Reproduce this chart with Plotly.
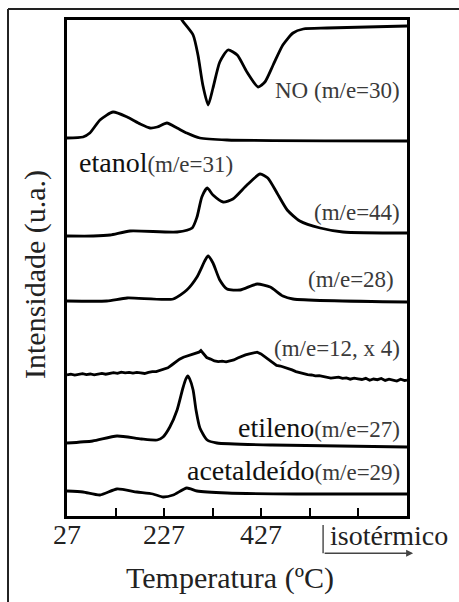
import plotly.graph_objects as go

# Temperature axis (°C): linear ramp, then isothermal hold
T_MIN, T_MAX = 27, 728
ISO_START = 555
TICK_VALS = [27, 127, 227, 327, 427, 527, 627]
TICK_TEXT = ["27", "", "227", "", "427", "", ""]

# Vertical offset of each stacked signal (arbitrary units)
OFFSETS = {"no": 490, "etanol": 376, "m44": 283, "m28": 214,
           "m12": 136, "etileno": 69, "acetaldeido": 22}

# NO (m/e=30) – consumption bands (signal runs above the frame at low T)
no_T = [239, 264, 287, 297, 307, 318, 328, 342, 359, 378, 398, 421, 435, 452,
        472, 493, 514, 563, 728]
no_I = [31, 6, -9, -29, -59, -79, -62, -36, -24, -29, -46, -61, -56, -39,
        -19, -7, -3, -2, 0]

# etanol (m/e=31)
etanol_T = [27, 60, 74, 95, 122, 151, 178, 198, 213, 233, 254, 274, 301, 357, 728]
etanol_I = [2, 3, 7, 20, 28, 23, 16, 12, 13, 17, 12, 7, 2, 0, -1]

# CO2 (m/e=44)
m44_T = [27, 81, 116, 157, 254, 285, 295, 305, 316, 328, 349, 369, 398, 425,
         441, 460, 481, 507, 549, 596, 728]
m44_I = [-3, -3, -2, 2, 1, 5, 16, 36, 45, 38, 31, 34, 48, 59,
         55, 40, 23, 12, 5, 1, 0]

# m/e=28
m28_T = [27, 109, 151, 246, 274, 295, 312, 318, 328, 342, 357, 384, 419, 446,
         472, 493, 728]
m28_I = [1, 1, 4, 3, 12, 25, 42, 46, 39, 22, 13, 12, 18, 15, 6, 3, 0]

# m/e=12 (x 4), noisy trace
m12_T = [27, 35, 43, 51, 59, 67, 75, 83, 91, 99, 107, 115, 123, 131, 139, 147,
         155, 163, 171, 179, 187, 195, 203, 211, 219, 227, 235, 243, 251, 259,
         267, 275, 283, 291, 299, 303, 307, 315, 323, 331, 339, 347, 355, 363,
         371, 379, 387, 395, 403, 411, 419, 427, 435, 443, 451, 459, 467, 475,
         483, 491, 499, 507, 515, 523, 531, 539, 547, 555, 563, 571, 579, 587,
         595, 603, 611, 619, 627, 635, 643, 651, 659, 667, 675, 683, 691, 699,
         707, 715, 723, 728]
m12_I = [5, 5.8, 4.9, 5.5, 6.3, 5.4, 6.0, 5.2, 6.1, 6.6, 5.8, 6.8, 7.3, 6.6, 7.9, 7.2,
         7.6, 6.9, 7.7, 7.1, 6.5, 7.6, 8.4, 8.3, 9.8, 10.9, 12.2, 15.0, 18.1, 20.8,
         22.8, 24.0, 25.7, 26.6, 27.8, 29.5, 27.2, 22.5, 20.9, 19.1, 18.3, 18.8, 18.2, 19.0,
         20.1, 22.0, 23.8, 25.1, 26.2, 27.0, 27.8, 26.1, 23.2, 20.0, 17.2, 14.6, 14.0, 12.9,
         11.2, 10.1, 8.4, 7.3, 6.2, 5.4, 5.0, 4.2, 4.3, 3.4, 3.2, 1.9, 2.4, 2.9,
         1.6, 2.1, 0.8, 1.9, 1.2, 0.5, 1.7, -0.3, 1.0, 0.3, 1.5, -0.4, 0.9, 0.2,
         -1.0, 0.8, -0.5, 0]

# etileno (m/e=27)
etileno_T = [27, 80, 130, 180, 213, 225, 239, 254, 266, 272, 276, 280, 287, 293,
             301, 316, 336, 450, 728]
etileno_I = [4, 6, 11, 8, 7, 10, 20, 37, 59, 68, 71, 68, 57, 37, 19, 7, 4, 2, 0]

# acetaldeído (m/e=29)
acet_T = [27, 60, 95, 130, 171, 204, 225, 246, 274, 295, 357, 500, 728]
acet_I = [3, 2, -1, 5, 2, 0, -3, -1, 6, 3, 1, 0, 0]

SERIF = "Liberation Serif"

series = [
    ("no", no_T, no_I, "spline"),
    ("etanol", etanol_T, etanol_I, "spline"),
    ("m44", m44_T, m44_I, "spline"),
    ("m28", m28_T, m28_I, "spline"),
    ("m12", m12_T, m12_I, "linear"),
    ("etileno", etileno_T, etileno_I, "spline"),
    ("acetaldeido", acet_T, acet_I, "spline"),
]

fig = go.Figure()
for key, xs, ys, shape in series:
    off = OFFSETS[key]
    fig.add_trace(go.Scatter(
        x=xs, y=[v + off for v in ys], mode="lines",
        line=dict(color="black", width=2.8, shape=shape, smoothing=0.6),
        showlegend=False, hoverinfo="skip"))

SMALL = "font-size:23px;color:#3a3a3a"


def label(text, x, y, anchor="right"):
    fig.add_annotation(x=x, y=y, xref="x", yref="y", text=text, showarrow=False,
                       xanchor=anchor, yanchor="middle",
                       font=dict(family=SERIF, size=28, color="#111"))


label(f"<span style='{SMALL}'>NO (m/e=30)</span>", 718, OFFSETS["no"] - 64)
label(f"etanol<span style='{SMALL}'>(m/e=31)</span>", 48, OFFSETS["etanol"] - 22, "left")
label(f"<span style='{SMALL}'>(m/e=44)</span>", 718, OFFSETS["m44"] + 21)
label(f"<span style='{SMALL}'>(m/e=28)</span>", 705, OFFSETS["m28"] + 23)
label(f"<span style='{SMALL}'>(m/e=12, x 4)</span>", 718, OFFSETS["m12"] + 32)
label(f"etileno<span style='{SMALL}'>(m/e=27)</span>", 718, OFFSETS["etileno"] + 20)
label(f"acetaldeído<span style='{SMALL}'>(m/e=29)</span>", 718, OFFSETS["acetaldeido"] + 24)

# Axis titles
fig.add_annotation(xref="paper", yref="paper", x=0.479, y=-0.125,
                   xanchor="center", yanchor="middle", showarrow=False,
                   text="Temperatura (ºC)",
                   font=dict(family=SERIF, size=30, color="#222"))
fig.add_annotation(xref="paper", yref="paper", x=-0.094, y=0.486,
                   xanchor="center", yanchor="middle", showarrow=False,
                   textangle=-90, text="Intensidade (u.a.)",
                   font=dict(family=SERIF, size=30, color="#222"))

# Isothermal marker: bracket below the axis with an arrow to the right
iso_x = (ISO_START - T_MIN) / (T_MAX - T_MIN)
fig.add_shape(type="line", xref="paper", yref="paper", x0=iso_x, x1=iso_x,
              y0=-0.018, y1=-0.075, line=dict(color="#444", width=1.4))
fig.add_annotation(xref="paper", yref="paper", x=1.018, y=-0.075, ax=-90, ay=0,
                   text="", showarrow=True, arrowhead=2, arrowsize=1,
                   arrowwidth=1.4, arrowcolor="#444")
fig.add_annotation(xref="paper", yref="paper", x=iso_x + 0.014, y=-0.040,
                   xanchor="left", yanchor="middle", text="isotérmico",
                   showarrow=False, font=dict(family=SERIF, size=28, color="#222"))

# Outer frame around the whole panel (top and left edges)
fig.add_shape(type="line", xref="paper", yref="paper", x0=-0.1735, x1=1.3,
              y0=1.022, y1=1.022, line=dict(color="#222", width=2))
fig.add_shape(type="line", xref="paper", yref="paper", x0=-0.1735, x1=-0.1735,
              y0=1.022, y1=-0.3, line=dict(color="#222", width=2))

fig.update_layout(
    width=459, height=602,
    margin=dict(l=67, r=52, t=20, b=86),
    paper_bgcolor="white", plot_bgcolor="white",
    xaxis=dict(range=[T_MIN, T_MAX], showline=True, linecolor="black",
               linewidth=3, mirror=True, showgrid=False, zeroline=False,
               ticks="inside", ticklen=8, tickwidth=2, tickcolor="black",
               tickvals=TICK_VALS, ticktext=TICK_TEXT, ticklabelstandoff=-9,
               tickfont=dict(family=SERIF, size=28, color="#222")),
    yaxis=dict(range=[0, 496], showline=True, linecolor="black", linewidth=3,
               mirror=True, showgrid=False, zeroline=False, ticks="",
               showticklabels=False),
)

fig.write_html("out.html")
